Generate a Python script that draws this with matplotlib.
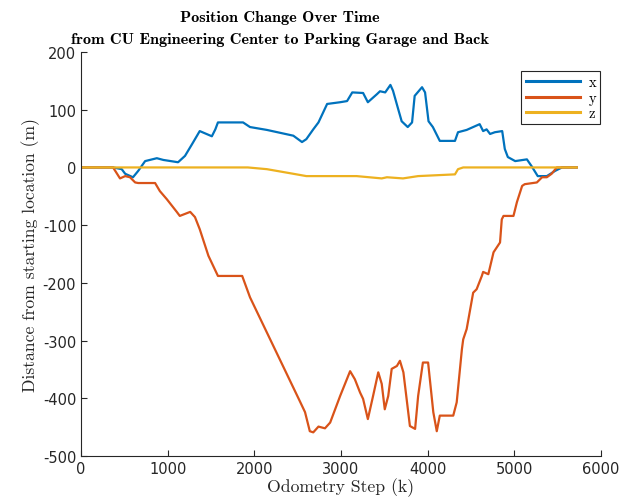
import matplotlib
matplotlib.use("Agg")
import matplotlib.pyplot as plt

plt.rcParams['axes.unicode_minus'] = False

# odometry step / position readings (m)
x_step = [0, 370, 470, 510, 600, 660, 740, 875, 950, 1120, 1200, 1280, 1370, 1510, 1550, 1580,
          1870, 1950, 2145, 2450, 2550, 2600, 2680, 2740, 2840, 2990, 3070, 3130, 3255, 3310,
          3415, 3450, 3510, 3570, 3600, 3660, 3700, 3770, 3820, 3850, 3935, 3970, 4010, 4060,
          4140, 4315, 4350, 4450, 4600, 4640, 4680, 4720, 4775, 4860, 4890, 4925, 5010, 5145,
          5200, 5270, 5375, 5470, 5550, 5720]
x_pos = [0, 0, -3, -11, -17, -6, 11, 16, 13, 9, 20, 40, 63, 54, 66, 78,
         78, 70, 65, 55, 44, 49, 66, 78, 110, 113, 115, 130, 129, 113,
         127, 132, 130, 143, 133, 101, 80, 70, 78, 124, 139, 130, 80, 70,
         46, 46, 61, 65, 75, 63, 66, 58, 61, 63, 32, 18, 11, 14,
         2, -15, -15, -6, 0, 0]

y_step = [0, 370, 450, 510, 565, 625, 660, 855, 910, 990, 1105, 1140, 1260, 1315, 1370, 1470,
          1580, 1860, 1950, 2525, 2585, 2640, 2680, 2740, 2815, 2875, 2990, 3105, 3160, 3220,
          3255, 3310, 3370, 3430, 3470, 3505, 3545, 3585, 3645, 3680, 3720, 3795, 3855, 3890,
          3945, 4005, 4065, 4105, 4140, 4295, 4335, 4395, 4410, 4450, 4525, 4565, 4625, 4640,
          4700, 4760, 4835, 4855, 4875, 4990, 5030, 5090, 5120, 5260, 5320, 5375, 5430, 5490,
          5720]
y_pos = [0, 0, -19, -15, -17, -26, -27, -27, -41, -55, -77, -84, -77, -86, -107, -153,
         -188, -188, -225, -405, -424, -457, -459, -449, -452, -442, -396, -353, -367, -390,
         -401, -436, -396, -355, -375, -419, -396, -349, -344, -335, -355, -448, -453, -396,
         -338, -338, -424, -457, -430, -430, -407, -315, -298, -280, -217, -211, -188, -181,
         -185, -147, -130, -90, -84, -84, -60, -32, -29, -26, -17, -17, -11, 0,
         0]

z_step = [0, 1925, 2145, 2450, 2600, 2870, 3180, 3470, 3530, 3715, 3890, 4315, 4350, 4410, 5720]
z_pos = [0, 0, -3, -11, -15, -15, -15, -19, -17, -19, -15, -12, -3, 0, 0]

fig = plt.figure(figsize=(6.25, 5.02), dpi=100)
ax = fig.add_axes([0.1296, 0.0896, 0.832, 0.8048])

ax.plot(x_step, x_pos, color='#0072BD', lw=1.6, label='x')
ax.plot(y_step, y_pos, color='#D95319', lw=1.6, label='y')
ax.plot(z_step, z_pos, color='#EDB120', lw=1.6, label='z')

ax.set_xlim(0, 6000)
ax.set_ylim(-500, 200)
ax.set_xticks(range(0, 6001, 1000))
ax.set_yticks(range(-500, 201, 100))

for s in ['top', 'right']:
    ax.spines[s].set_visible(False)
for s in ['left', 'bottom']:
    ax.spines[s].set_color('#262626')
    ax.spines[s].set_linewidth(0.8)
ax.tick_params(direction='in', length=4, width=0.8, colors='#262626', labelsize=10.5,
               labelcolor='#262626')

# title sits left of the axes centre in the original
fig.text(0.448, 0.978, 'Position Change Over Time', fontfamily='cmb10', fontsize=11.7,
         ha='center', va='top')
fig.text(0.448, 0.935, 'from CU Engineering Center to Parking Garage and Back',
         fontfamily='cmb10', fontsize=11.7, ha='center', va='top')
ax.set_xlabel('Odometry Step (k)', fontfamily='cmr10', fontsize=12.7, color='#262626', labelpad=1)
ax.set_ylabel('Distance from starting location (m)', fontfamily='cmr10', fontsize=12.7,
              color='#262626', labelpad=2)

leg = ax.legend(loc='upper right', bbox_to_anchor=(0.999, 0.952), prop={'family': 'cmr10', 'size': 10.5},
                handlelength=3.7, fancybox=False, framealpha=1, borderpad=0.3, labelspacing=0.1,
                handletextpad=0.6, borderaxespad=0)
leg.get_frame().set_edgecolor('#262626')
leg.get_frame().set_linewidth(0.8)
for line in leg.get_lines():
    line.set_linewidth(2.2)

fig.savefig('out.png', dpi=100)
